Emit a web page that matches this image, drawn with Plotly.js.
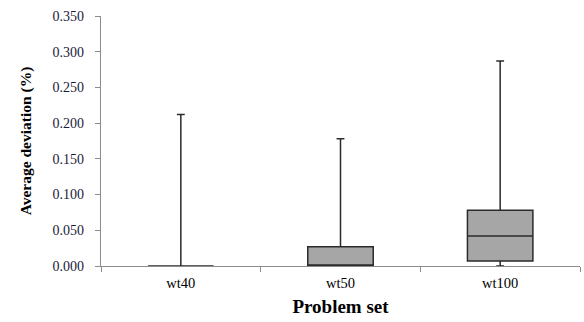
<!DOCTYPE html>
<html><head><meta charset="utf-8">
<script src="https://cdn.plot.ly/plotly-3.0.1.min.js"></script>
<style>html,body{margin:0;padding:0;background:#fff}#c{width:584px;height:322px}</style>
</head><body><div id="c"></div>
<script>
const categories = ['wt40', 'wt50', 'wt100'];
const minVals = [0, 0, 0];
const q1Vals = [0, 0, 0.007];
const medianVals = [0, 0, 0.042];
const q3Vals = [0, 0.027, 0.078];
const maxVals = [0.212, 0.178, 0.287];
const yTicks = [0, 0.05, 0.1, 0.15, 0.2, 0.25, 0.3, 0.35];

const trace = {
  type: 'box',
  x: categories,
  q1: q1Vals,
  median: medianVals,
  q3: q3Vals,
  lowerfence: minVals,
  upperfence: maxVals,
  width: 0.41,
  fillcolor: '#a6a6a6',
  line: {color: '#2b2b2b', width: 1.5},
  whiskerwidth: 0.12,
  boxpoints: false,
  hoverinfo: 'none'
};
const font = {family: '"Liberation Serif", "Times New Roman", serif', color: '#000'};
const layout = {
  width: 584, height: 322,
  margin: {l: 101, r: 4, t: 16, b: 56},
  paper_bgcolor: '#fff', plot_bgcolor: '#fff',
  showlegend: false,
  font: font,
  xaxis: {
    type: 'category',
    range: [-0.5, 2.5],
    showline: true, linecolor: '#8c8c8c', linewidth: 1.2,
    ticks: 'outside', tickson: 'boundaries', ticklen: 5, tickcolor: '#8c8c8c',
    showgrid: false, zeroline: false, automargin: false,
    ticklabelstandoff: 3,
    tickfont: {family: font.family, size: 14.5, color: '#000'},
    title: {text: '<b>Problem set</b>', font: {family: font.family, size: 19, color: '#000'}, standoff: 10}
  },
  yaxis: {
    range: [0, 0.35],
    tickvals: yTicks,
    tickformat: '.3f',
    showline: true, linecolor: '#8c8c8c', linewidth: 1.2,
    ticks: 'outside', ticklen: 5, tickcolor: '#8c8c8c',
    showgrid: false, zeroline: false, automargin: false,
    ticklabelstandoff: 8,
    tickfont: {family: font.family, size: 14, color: '#1a1a3a'},
    title: {text: '<b>Average deviation (%)</b>', font: {family: font.family, size: 15.5, color: '#000'}, standoff: 17}
  }
};
Plotly.newPlot('c', [trace], layout, {displayModeBar: false, staticPlot: true});
</script></body></html>
